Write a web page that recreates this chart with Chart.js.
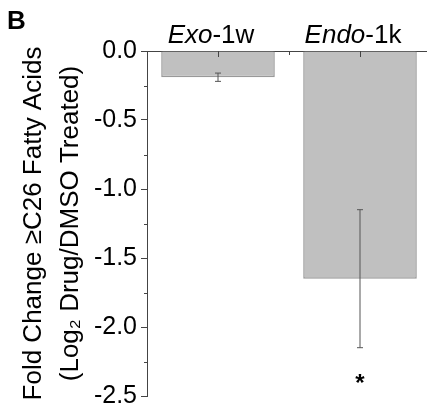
<!DOCTYPE html>
<html>
<head>
<meta charset="utf-8">
<script src="https://cdn.jsdelivr.net/npm/chart.js@4"></script>
<style>
html, body { margin: 0; padding: 0; background: #fff; overflow: hidden; }
#wrap { width: 436px; height: 415px; }
</style>
</head>
<body>
<div id="wrap"><canvas id="chart" width="436" height="415"></canvas></div>
<script>
// data
const categories = ['Exo-1w', 'Endo-1k']
const italicParts = ['Exo', 'Endo']
const plainParts = ['-1w', '-1k']
const foldChange = [-0.19, -1.65]
const errors = [0.03, 0.5]
const marks = ['', '*']
const yMin = -2.5
const yMax = 0
const yStep = 0.5
const yTitle = ['Fold Change \u2265C26 Fatty Acids', '(Log\u2082 Drug/DMSO Treated)']
const panelLabel = 'B'

const FONT = "'Liberation Sans', Arial, sans-serif"
const AXIS = '#444'

const decorations = {
    id: 'decorations',
    afterDatasetsDraw(chart) {
        const {ctx, scales: {x, y}} = chart
        ctx.save()
        ctx.strokeStyle = '#555'
        ctx.lineWidth = 1
        foldChange.forEach((v, i) => {
            const cx = x.getPixelForValue(i)
            const top = y.getPixelForValue(v + errors[i])
            const bot = y.getPixelForValue(v - errors[i])
            ctx.beginPath()
            ctx.moveTo(cx, top)
            ctx.lineTo(cx, bot)
            ctx.moveTo(cx - 3, top)
            ctx.lineTo(cx + 3, top)
            ctx.moveTo(cx - 3, bot)
            ctx.lineTo(cx + 3, bot)
            ctx.stroke()
            if (marks[i]) {
                ctx.fillStyle = '#000'
                ctx.font = 'bold 24px ' + FONT
                ctx.textAlign = 'center'
                ctx.textBaseline = 'alphabetic'
                ctx.fillText(marks[i], cx, bot + 43)
            }
        })
        ctx.restore()
    },
    afterDraw(chart) {
        const {ctx, scales: {x, y}, chartArea} = chart
        ctx.save()
        ctx.strokeStyle = AXIS
        ctx.lineWidth = 1
        // minor ticks on y
        ctx.beginPath()
        for (let v = yMax - yStep / 2; v > yMin; v -= yStep) {
            const py = Math.round(y.getPixelForValue(v)) + 0.5
            ctx.moveTo(chartArea.left - 3, py)
            ctx.lineTo(chartArea.left, py)
        }
        // ticks on the top axis
        categories.forEach((c, i) => {
            const px = Math.round(x.getPixelForValue(i)) + 0.5
            ctx.moveTo(px, chartArea.top)
            ctx.lineTo(px, chartArea.top + 6)
            if (i > 0) {
                const bx = Math.round(x.getPixelForValue(i - 0.5)) + 0.5
                ctx.moveTo(bx, chartArea.top)
                ctx.lineTo(bx, chartArea.top + 4)
            }
        })
        ctx.stroke()

        // category labels, italic compound name
        ctx.fillStyle = '#000'
        ctx.textBaseline = 'alphabetic'
        ctx.textAlign = 'left'
        categories.forEach((c, i) => {
            const itFont = 'italic 26px ' + FONT
            const upFont = '26px ' + FONT
            ctx.font = itFont
            const w1 = ctx.measureText(italicParts[i]).width
            ctx.font = upFont
            const w2 = ctx.measureText(plainParts[i]).width
            let sx = x.getPixelForValue(i) - 7 - (w1 + w2) / 2
            ctx.font = itFont
            ctx.fillText(italicParts[i], sx, chartArea.top - 8)
            ctx.font = upFont
            ctx.fillText(plainParts[i], sx + w1, chartArea.top - 8)
        })

        ctx.font = 'bold 26px ' + FONT
        ctx.fillText(panelLabel, 7, 29)
        ctx.restore()
    }
}

const ctx = document.getElementById('chart').getContext('2d')
window.myChart = new Chart(ctx, {
    type: 'bar',
    data: {
        labels: categories,
        datasets: [
            {
                data: foldChange,
                backgroundColor: '#c0c0c0',
                borderColor: '#999',
                borderWidth: 1.5,
                categoryPercentage: 1,
                barPercentage: 0.8
            }
        ]
    },
    options: {
        responsive: false,
        animation: false,
        layout: { padding: { left: 0, right: 5, top: 0, bottom: 14 } },
        plugins: { legend: { display: false }, tooltip: { enabled: false } },
        scales: {
            x: {
                position: 'top',
                offset: true,
                grid: { display: false },
                ticks: { display: false },
                border: { display: true, color: AXIS, width: 1 },
                afterFit(scale) { scale.height = 51 }
            },
            y: {
                min: yMin,
                max: yMax,
                grid: { drawOnChartArea: false, drawTicks: true, tickLength: 6, color: AXIS },
                border: { display: true, color: AXIS, width: 1 },
                ticks: {
                    stepSize: yStep,
                    padding: 4,
                    color: '#000',
                    font: { family: FONT, size: 25 },
                    callback: v => v.toFixed(1)
                },
                title: {
                    display: true,
                    text: yTitle,
                    color: '#000',
                    font: { family: FONT, size: 26, lineHeight: 1.42 },
                    padding: { top: 15, bottom: 0 }
                },
                afterFit(scale) { scale.width = 147 }
            }
        }
    },
    plugins: [decorations]
});
</script>
</body>
</html>
